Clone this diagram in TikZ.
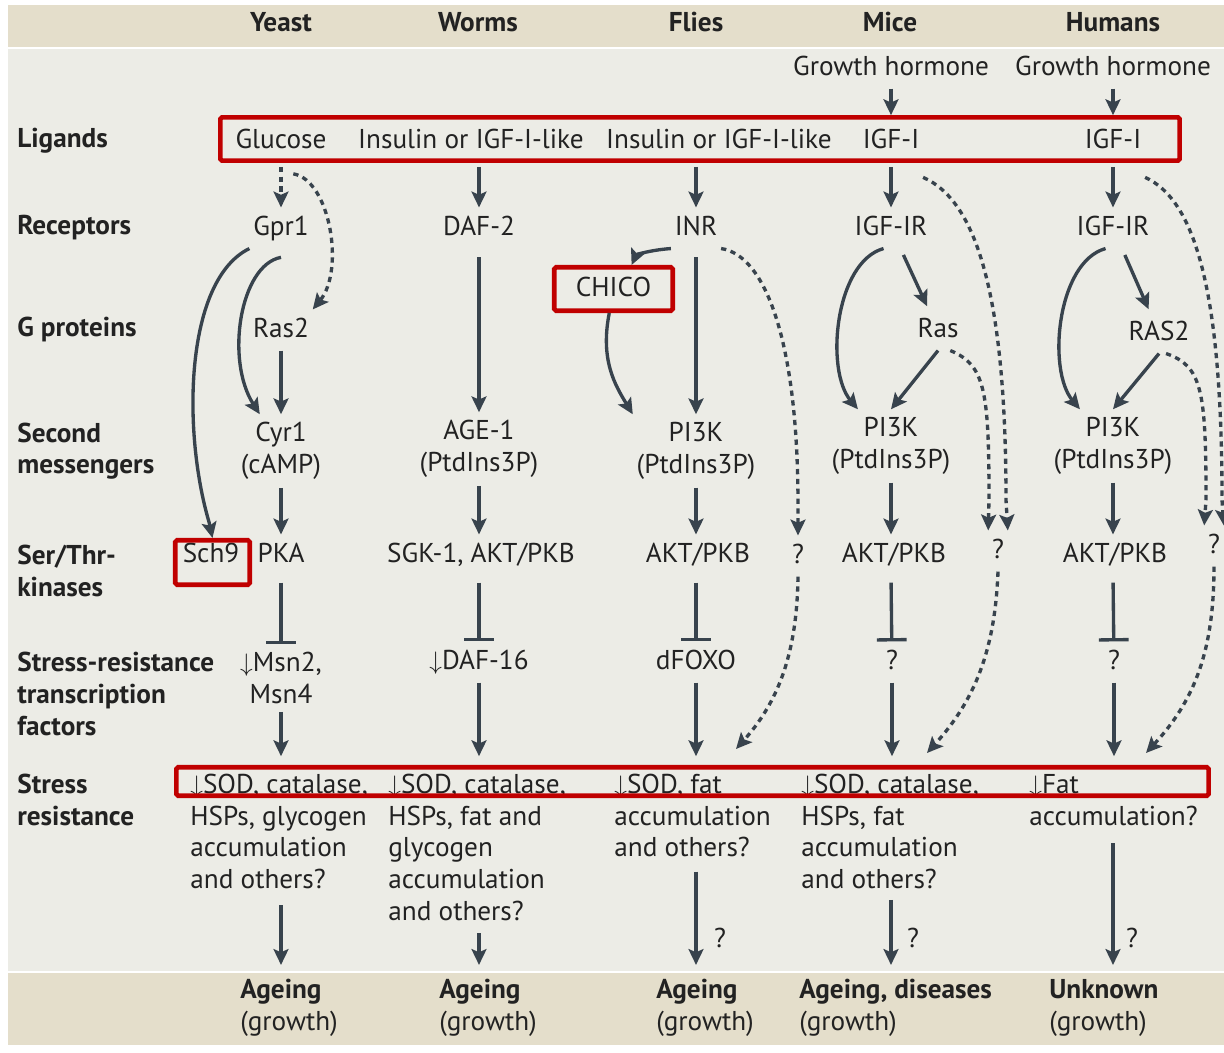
\documentclass[tikz,border=0pt]{standalone}
\usepackage{fontspec}
\setmainfont{PT Sans}
\usetikzlibrary{arrows.meta}
\definecolor{bandbg}{HTML}{E4DECB}
\definecolor{panelbg}{HTML}{ECECE6}
\definecolor{boxred}{HTML}{C00000}
\definecolor{arrowc}{HTML}{38434D}
\definecolor{inkc}{HTML}{222222}
\begin{document}
\begin{tikzpicture}[x=0.02cm, y=-0.02cm, font=\fontsize{15.5}{18}\selectfont]

    \tikzset{
      lab/.style={
        inner xsep=2pt,
        inner ysep=4.5pt,
        text height=11pt,
        text depth=3pt,
        text=inkc,
      },
      duo/.style={align=center, inner xsep=2pt, inner ysep=4.5pt, text=inkc},
      rowlab/.style={anchor=west, align=left, inner sep=0pt, text=inkc,
        font=\fontsize{15.5}{18}\selectfont\bfseries},
      head/.style={inner sep=0pt, text=inkc, font=\fontsize{15.5}{18}\selectfont\bfseries},
      note/.style={anchor=north west, align=left, inner sep=0pt, text=inkc},
      redbox/.style={draw=boxred, line width=2.6pt, rounded corners=1pt},
      arr/.style={draw=arrowc, line width=1.9pt,
        -{Stealth[length=9pt, width=8.5pt, inset=1.8pt]}},
      darr/.style={arr, dash pattern=on 3pt off 2.6pt},
      inh/.style={draw=arrowc, line width=1.9pt, -{Bar[width=17pt]}},
    }
    \useasboundingbox (0,0) rectangle (1224,1053);
    \fill[white] (0,0) rectangle (1224,1053);
    \fill[bandbg] (8,5) rectangle (1224,47);
    \fill[panelbg] (8,49) rectangle (1224,971);
    \fill[bandbg] (8,973) rectangle (1224,1045);

    \coordinate (colY) at (281,0);
    \coordinate (colW) at (479,0);
    \coordinate (colF) at (696,0);
    \coordinate (colM) at (891,0);
    \coordinate (colH) at (1113,0);

    \node[head] (hy) at (281,22) {Yeast};
    \node[head] (hw) at (478,22) {Worms};
    \node[head] (hf) at (696,22) {Flies};
    \node[head] (hm) at (890,22) {Mice};
    \node[head] (hh) at (1113,22) {Humans};

    \node[rowlab] (rlig) at (17,141) {Ligands};
    \node[rowlab] (rrec) at (17,228) {Receptors};
    \node[rowlab] (rgp) at (17,330) {G proteins};
    \node[rowlab] (rsm) at (17,451) {Second\\messengers};
    \node[rowlab] (rkin) at (17,571) {Ser/Thr-\\kinases};
    \node[rowlab] (rtf) at (17,694) {Stress-resistance\\transcription\\factors};
    \node[rowlab] (rsr) at (17,800) {Stress\\resistance};

    \node[lab] (ghm) at (891,68) {Growth hormone};
    \node[lab] (ghh) at (1113,68) {Growth hormone};

    \node[lab] (lgy) at (281,141) {Glucose};
    \node[lab] (lgw) at (471,141) {Insulin or IGF-I-like};
    \node[lab] (lgf) at (719,141) {Insulin or IGF-I-like};
    \node[lab] (lgm) at (891,141) {IGF-I};
    \node[lab] (lgh) at (1113,141) {IGF-I};
    \draw[redbox] (220.3,117.3) rectangle (1179.7,160.7);

    \node[lab] (rcy) at (281,228) {Gpr1};
    \node[lab] (rcw) at (479,228) {DAF-2};
    \node[lab] (rcf) at (696,228) {INR};
    \node[lab] (rcm) at (891,228) {IGF-IR};
    \node[lab] (rch) at (1113,228) {IGF-IR};

    \node[lab, redbox, minimum width=2.37cm, minimum height=0.87cm] (chico) at (613.5,289) {CHICO};

    \node[lab] (gpy) at (281,330) {Ras2};
    \node[lab] (gpm) at (938,330) {Ras};
    \node[lab] (gph) at (1159,333) {RAS2};

    \node[duo] (smy) at (281,451) {Cyr1\\(cAMP)};
    \node[duo] (smw) at (479,449) {AGE-1\\(PtdIns3P)};
    \node[duo] (smf) at (696,451) {PI3K\\(PtdIns3P)};
    \node[duo] (smm) at (891,446) {PI3K\\(PtdIns3P)};
    \node[duo] (smh) at (1113,446) {PI3K\\(PtdIns3P)};

    \node[lab] (sch) at (211,555) {Sch9};
    \node[redbox, minimum width=1.49cm, minimum height=0.89cm] (schbox) at (212.5,562.5) {};
    \node[lab] (pka) at (281,555) {PKA};
    \node[lab] (skw) at (481,555) {SGK-1, AKT/PKB};
    \node[lab] (akf) at (698,555) {AKT/PKB};
    \node[lab] (qf) at (798,556) {?};
    \node[lab] (akm) at (894,555) {AKT/PKB};
    \node[lab] (qm) at (998,551) {?};
    \node[lab] (akh) at (1115,555) {AKT/PKB};
    \node[lab] (qh) at (1214,546) {?};

    \node[duo] (tfy) at (281,678) {$\downarrow$Msn2,\\Msn4};
    \node[lab] (tfw) at (479,662) {$\downarrow$DAF-16};
    \node[lab] (tff) at (696,662) {dFOXO};
    \node[lab] (tfm) at (892,662) {?};
    \node[lab] (tfh) at (1114,662) {?};

    \node[note] (sry) at (190,774) {$\downarrow$SOD, catalase,\\HSPs, glycogen\\accumulation\\and others?};
    \node[note] (srw) at (388,774) {$\downarrow$SOD, catalase,\\HSPs, fat and\\glycogen\\accumulation\\and others?};
    \node[note] (srf) at (614,774) {$\downarrow$SOD, fat\\accumulation\\and others?};
    \node[note] (srm) at (801,774) {$\downarrow$SOD, catalase,\\HSPs, fat\\accumulation\\and others?};
    \node[note] (srh) at (1029,774) {$\downarrow$Fat\\accumulation?};
    \node[redbox, minimum width=20.65cm, minimum height=0.57cm] (srbox) at (692.5,781.5) {};

    \node[note] (oy) at (240,979) {\textbf{Ageing}\\(growth)};
    \node[note] (ow) at (439,979) {\textbf{Ageing}\\(growth)};
    \node[note] (of) at (656,979) {\textbf{Ageing}\\(growth)};
    \node[note] (om) at (799,979) {\textbf{Ageing, diseases}\\(growth)};
    \node[note] (oh) at (1049,979) {\textbf{Unknown}\\(growth)};

    \node[lab] (qfo) at (720,940) {?};
    \node[lab] (qmo) at (913,940) {?};
    \node[lab] (qho) at (1132,940) {?};

    \coordinate (srinf) at (736,749);
    \coordinate (srinm) at (927,753);
    \coordinate (srinh) at (1146,753);

    \draw[arr, shorten >=3pt] (ghm) -- (lgm);
    \draw[arr, shorten >=3pt] (ghh) -- (lgh);

    \draw[darr, shorten <=3pt] (lgy) -- (rcy);
    \draw[darr] ([xshift=7pt, yshift=-7pt]lgy.south) .. controls (330,180) and (345,270) .. (gpy.north east);
    \draw[arr] (rcy.south west) .. controls (185,280) and (182,430) .. (209,522) -- (schbox.north);
    \draw[arr] ([yshift=-5pt]rcy.south) .. controls (240,265) and (225,360) .. (smy.120);
    \draw[arr] (gpy) -- (smy);
    \draw[arr] (smy) -- (pka);
    \draw[inh, shorten <=4pt] (pka) -- (tfy);
    \draw[arr, shorten >=5pt] (tfy) -- (tfy |- srbox.north);
    \draw[arr, shorten <=9pt, shorten >=8pt] (sry.south -| colY) -- (oy.north -| colY);

    \draw[arr, shorten <=3pt] (lgw.south -| rcw) -- (rcw);
    \draw[arr, shorten <=5pt] (rcw) -- (smw);
    \draw[arr] (smw) -- (smw |- skw.north);
    \draw[inh, shorten <=4pt] (skw.south -| colW) -- (tfw);
    \draw[arr, shorten >=5pt] (tfw) -- (tfw |- srbox.north);
    \draw[arr, shorten <=7pt, shorten >=8pt] (srw.south -| colW) -- (ow.north -| colW);

    \draw[arr, shorten <=3pt] (lgf.south -| rcf) -- (rcf);
    \draw[arr, shorten <=5pt] (rcf) -- (smf);
    \draw[arr] (rcf.south west) .. controls (650,250) and (636,255) .. (chico.53);
    \draw[arr] (chico.260) .. controls (600,360) and (615,385) .. (smf.north west);
    \draw[arr] (smf) -- (smf |- akf.north);
    \draw[inh, shorten <=4pt] (akf.south -| colF) -- (tff);
    \draw[arr, shorten >=5pt] (tff) -- (tff |- srbox.north);
    \draw[arr, shorten <=8pt, shorten >=8pt] (srf.south -| colF) -- (of.north -| colF);
    \draw[darr] (rcf.south east) .. controls (765,255) and (798,340) .. (798,505) -- (qf.north);
    \draw[darr] (qf.south) .. controls (797,650) and (780,700) .. (srinf);

    \draw[arr, shorten <=3pt] (lgm) -- (rcm);
    \draw[arr, shorten <=4pt, shorten >=2pt] (rcm) -- (gpm);
    \draw[arr] (gpm.south) -- (smm.north);
    \draw[arr] (rcm.250) .. controls (835,262) and (825,370) .. (smm.132);
    \draw[arr] (smm) -- (smm |- akm.north);
    \draw[inh, shorten <=4pt] (akm.south -| colM) -- (tfm);
    \draw[arr, shorten >=5pt] (tfm) -- (tfm |- srbox.north);
    \draw[arr, shorten <=6pt, shorten >=8pt] (srm.south -| colM) -- (om.north -| colM);
    \draw[darr] ([xshift=7pt]gpm.south) .. controls (985,365) and (989,390) .. (989,500) -- (qm.north west);
    \draw[darr] ([yshift=-9pt]lgm.south east) .. controls (975,200) and (1006,290) .. (1006,500) -- (qm.north east);
    \draw[darr] (qm.south) .. controls (995,650) and (975,700) .. (srinm);

    \draw[arr, shorten <=3pt] (lgh) -- (rch);
    \draw[arr, shorten <=4pt, shorten >=2pt] (rch) -- (gph);
    \draw[arr] (gph.south) -- (smh.north);
    \draw[arr] (rch.250) .. controls (1057,262) and (1047,370) .. (smh.132);
    \draw[arr] (smh) -- (smh |- akh.north);
    \draw[inh, shorten <=4pt] (akh.south -| colH) -- (tfh);
    \draw[arr, shorten >=5pt] (tfh) -- (tfh |- srbox.north);
    \draw[arr, shorten <=10pt, shorten >=8pt] (srh.south -| colH) -- (oh.north -| colH);
    \draw[darr] ([xshift=4pt]gph.south) .. controls (1202,366) and (1206,390) .. (1206,500) -- (qh.north west);
    \draw[darr] ([yshift=-9pt]lgh.south east) .. controls (1195,200) and (1222,290) .. (1222,500) -- (qh.north east);
    \draw[darr] (qh.south) .. controls (1214,650) and (1195,700) .. (srinh);

\end{tikzpicture}
\end{document}
